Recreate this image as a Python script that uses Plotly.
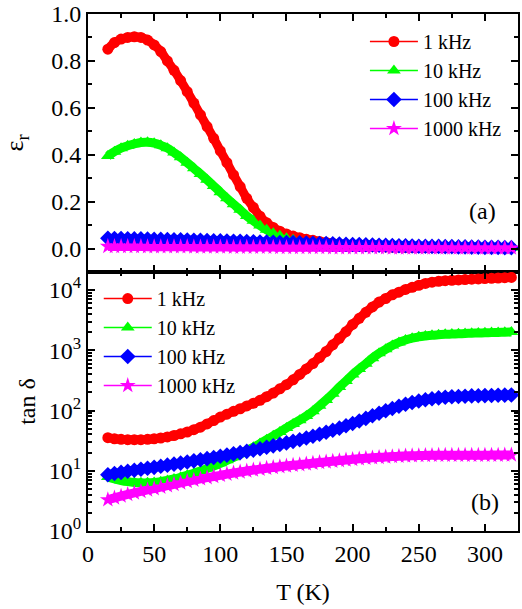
import plotly.graph_objects as go

T = [15, 20, 25, 30, 35, 40, 45, 50, 55, 60,
     65, 70, 75, 80, 85, 90, 95, 100, 105, 110,
     115, 120, 125, 130, 135, 140, 145, 150, 155, 160,
     165, 170, 175, 180, 185, 190, 195, 200, 205, 210,
     215, 220, 225, 230, 235, 240, 245, 250, 255, 260,
     265, 270, 275, 280, 285, 290, 295, 300, 305, 310,
     315, 320]

eps_1k = [0.850, 0.878, 0.893, 0.900, 0.903, 0.900, 0.889, 0.868, 0.840, 0.800,
          0.760, 0.716, 0.669, 0.620, 0.570, 0.520, 0.470, 0.416, 0.366, 0.314,
          0.264, 0.214, 0.175, 0.138, 0.110, 0.090, 0.074, 0.062, 0.053, 0.046,
          0.040, 0.035, 0.030, 0.026, 0.022, 0.019, 0.016, 0.014, 0.012, 0.010,
          0.009, 0.008, 0.007, 0.0065, 0.006, 0.0055, 0.005, 0.005, 0.0045, 0.0045,
          0.004, 0.004, 0.004, 0.0035, 0.0035, 0.0035, 0.003, 0.003, 0.003, 0.003,
          0.003, 0.003]
eps_10k = [0.395, 0.413, 0.428, 0.438, 0.446, 0.452, 0.453, 0.449, 0.440, 0.428,
           0.409, 0.389, 0.366, 0.342, 0.318, 0.293, 0.267, 0.240, 0.214, 0.189,
           0.165, 0.139, 0.118, 0.098, 0.080, 0.065, 0.054, 0.044, 0.037, 0.031,
           0.026, 0.022, 0.018, 0.015, 0.013, 0.011, 0.009, 0.008, 0.007, 0.0065,
           0.006, 0.0055, 0.005, 0.005, 0.0045, 0.0045, 0.004, 0.004, 0.004, 0.0035,
           0.0035, 0.0035, 0.0035, 0.003, 0.003, 0.003, 0.003, 0.003, 0.003, 0.003,
           0.003, 0.003]
eps_100k = [0.044, 0.043, 0.043, 0.042, 0.041, 0.041, 0.040, 0.039, 0.039, 0.038,
            0.037, 0.037, 0.036, 0.035, 0.035, 0.034, 0.033, 0.033, 0.032, 0.031,
            0.031, 0.030, 0.029, 0.028, 0.028, 0.027, 0.026, 0.025, 0.025, 0.024,
            0.023, 0.022, 0.021, 0.021, 0.020, 0.019, 0.018, 0.017, 0.017, 0.016,
            0.015, 0.014, 0.014, 0.013, 0.012, 0.012, 0.011, 0.010, 0.010, 0.009,
            0.009, 0.008, 0.008, 0.007, 0.007, 0.006, 0.006, 0.005, 0.005, 0.005,
            0.004, 0.004]
eps_1000k = [0.009, 0.009, 0.009, 0.009, 0.009, 0.009, 0.008, 0.008, 0.008, 0.008,
             0.008, 0.008, 0.008, 0.007, 0.007, 0.007, 0.007, 0.007, 0.007, 0.006,
             0.006, 0.006, 0.006, 0.006, 0.006, 0.006, 0.005, 0.005, 0.005, 0.005,
             0.005, 0.005, 0.005, 0.005, 0.004, 0.004, 0.004, 0.004, 0.004, 0.004,
             0.004, 0.004, 0.004, 0.003, 0.003, 0.003, 0.003, 0.003, 0.003, 0.003,
             0.003, 0.003, 0.002, 0.002, 0.002, 0.002, 0.002, 0.002, 0.002, 0.002,
             0.002, 0.002]

tan_1k = [35.4, 34.0, 33.2, 32.8, 32.8, 32.8, 33.2, 34.0, 35.0, 36.5,
          38.5, 41.0, 44.0, 48.0, 53.0, 60.0, 68.0, 78.0, 87.0, 97.0,
          107, 119, 132, 148, 170, 195, 229, 269, 324, 398,
          490, 603, 759, 955, 1230, 1585, 2040, 2690, 3390, 4270,
          5250, 6310, 7240, 8320, 9230, 10230, 11090, 12020, 12880, 13490,
          13960, 14290, 14520, 14720, 14930, 15140, 15310, 15490, 15670, 15850,
          16030, 16220]
tan_10k = [7.9, 7.3, 6.9, 6.6, 6.4, 6.3, 6.3, 6.4, 6.6, 6.9,
           7.3, 7.8, 8.4, 9.1, 9.9, 10.9, 12.0, 13.3, 14.9, 16.7,
           18.9, 21.5, 24.6, 28.3, 32.8, 38.0, 44.0, 51.5, 60.0, 69.0,
           81, 97, 120, 150, 190, 245, 310, 395, 490, 600,
           740, 890, 1040, 1200, 1350, 1480, 1590, 1670, 1730, 1780,
           1810, 1840, 1860, 1880, 1900, 1920, 1935, 1950, 1965, 1980,
           1995, 2010]
tan_100k = [8.6, 9.0, 9.4, 9.8, 10.2, 10.6, 11.0, 11.4, 11.9, 12.4,
            12.9, 13.4, 14.0, 14.6, 15.2, 15.9, 16.6, 17.4, 18.2, 19.1,
            20.0, 21.0, 22.0, 23.2, 24.5, 25.9, 27.4, 29.0, 30.8, 32.8,
            35.0, 37.5, 40.3, 43.5, 47.0, 51.0, 56.0, 61.0, 67.0, 74.0,
            82, 90, 99, 108, 118, 127, 136, 144, 151, 157,
            162, 166, 169, 171, 173, 175, 176, 177, 178, 179,
            180, 181]
tan_1000k = [3.3, 3.55, 3.8, 4.05, 4.3, 4.55, 4.8, 5.05, 5.35, 5.65,
             5.95, 6.3, 6.65, 7.0, 7.35, 7.7, 8.05, 8.4, 8.8, 9.2,
             9.55, 9.9, 10.3, 10.65, 11.0, 11.35, 11.7, 12.0, 12.35, 12.65,
             13.0, 13.35, 13.7, 14.05, 14.4, 14.75, 15.1, 15.45, 15.8, 16.1,
             16.4, 16.7, 16.95, 17.2, 17.4, 17.6, 17.75, 17.9, 18.0, 18.05,
             18.1, 18.1, 18.1, 18.1, 18.1, 18.1, 18.1, 18.15, 18.2, 18.2,
             18.25, 18.3]

names = ["1 kHz", "10 kHz", "100 kHz", "1000 kHz"]
colors = ["#FF0000", "#00FF00", "#0000FF", "#FF00FF"]
symbols = ["circle", "triangle-up", "diamond", "star"]
sizes = [11, 12, 12, 12]
top_series = [eps_1k, eps_10k, eps_100k, eps_1000k]
bot_series = [tan_1k, tan_10k, tan_100k, tan_1000k]

log_major = [1, 10, 100, 1000, 10000]
log_major_text = ["10<sup>0</sup>", "10<sup>1</sup>", "10<sup>2</sup>", "10<sup>3</sup>", "10<sup>4</sup>"]
log_minor = [m * d for d in [1, 10, 100, 1000, 10000] for m in range(2, 10)]

FONT = "Liberation Serif"

fig = go.Figure()
for series, xa, ya, lg in [(top_series, "x", "y", "legend"), (bot_series, "x2", "y2", "legend2")]:
    # thick band underneath (the dense measured points form a continuous band)
    for i in range(4):
        fig.add_trace(go.Scatter(
            x=T, y=series[i], mode="lines", showlegend=False, hoverinfo="skip",
            line=dict(color=colors[i], width=9, shape="spline"),
            xaxis=xa, yaxis=ya))
    for i in range(4):
        fig.add_trace(go.Scatter(
            x=T, y=series[i], mode="lines+markers", name=names[i],
            line=dict(color=colors[i], width=1.5),
            marker=dict(symbol=symbols[i], size=sizes[i], color=colors[i], line=dict(width=0)),
            xaxis=xa, yaxis=ya, legend=lg))

axis_common = dict(showline=True, linecolor="black", linewidth=2, mirror="ticks",
                   ticks="inside", ticklen=7, tickwidth=1.5, tickcolor="black",
                   showgrid=False, zeroline=False, ticklabeloverflow="allow",
                   tickfont=dict(family=FONT, size=24, color="black"))
minor_common = dict(ticks="inside", ticklen=4, tickcolor="black", tickwidth=1.5)

fig.update_layout(
    width=522, height=609,
    margin=dict(l=88, r=4, t=14, b=78, autoexpand=False),
    paper_bgcolor="white", plot_bgcolor="white",
    font=dict(family=FONT, size=24, color="black"),
    xaxis=dict(domain=[0, 1], anchor="y", range=[0, 325], dtick=50, showticklabels=False,
               minor=dict(dtick=25, **minor_common), **axis_common),
    yaxis=dict(domain=[0.501, 1], anchor="x", range=[-0.1, 1.0], dtick=0.2, tickformat=".1f",
               minor=dict(dtick=0.1, **minor_common),
               title=dict(text="ε<sub>r</sub>", font=dict(family=FONT, size=26), standoff=20),
               **axis_common),
    xaxis2=dict(domain=[0, 1], anchor="y2", range=[0, 325], dtick=50, matches="x",
                minor=dict(dtick=25, **minor_common),
                title=dict(text="T (K)", font=dict(family=FONT, size=24), standoff=17),
                **axis_common),
    yaxis2=dict(domain=[0, 0.501], anchor="x2", type="log", range=[0, 4.3],
                tickmode="array", tickvals=log_major, ticktext=log_major_text,
                minor=dict(tickmode="array", tickvals=log_minor, **minor_common),
                title=dict(text="tan δ", font=dict(family=FONT, size=24), standoff=6),
                **axis_common),
    legend=dict(x=0.644, y=0.9845, xanchor="left", yanchor="top", bgcolor="rgba(0,0,0,0)",
                font=dict(family=FONT, size=20, color="black"), tracegroupgap=0,
                itemwidth=48),
    legend2=dict(x=0.025, y=0.4874, xanchor="left", yanchor="top", bgcolor="rgba(0,0,0,0)",
                 font=dict(family=FONT, size=20, color="black"), tracegroupgap=0,
                 itemwidth=48),
    annotations=[
        dict(text="(a)", x=0.9186, y=0.619, xref="paper", yref="paper", showarrow=False,
             xanchor="center", yanchor="middle",
             font=dict(family=FONT, size=24, color="black")),
        dict(text="(b)", x=0.923, y=0.056, xref="paper", yref="paper", showarrow=False,
             xanchor="center", yanchor="middle",
             font=dict(family=FONT, size=24, color="black")),
    ],
)

fig.write_html("out.html", config={"displayModeBar": False},
               post_script="document.body.style.margin='0px';")
